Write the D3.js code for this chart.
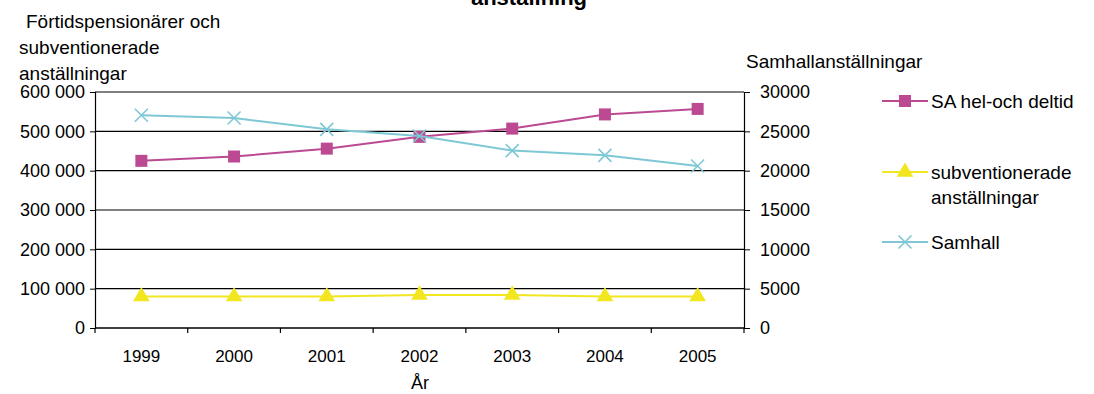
<!DOCTYPE html>
<html>
<head>
<meta charset="utf-8">
<script src="https://cdn.jsdelivr.net/npm/d3@7"></script>
<style>
  html, body { margin: 0; padding: 0; background: #fff; }
  svg { display: block; font-family: "Liberation Sans", Arial, sans-serif; }
</style>
</head>
<body>
<svg id="chart" width="1094" height="394"></svg>
<script>
// Years on the category axis
const years = ["1999", "2000", "2001", "2002", "2003", "2004", "2005"];

// Left axis series (persons)
const saHelDeltid = [425000, 436000, 456000, 486000, 507000, 543000, 557000];
const subventionerade = [80000, 80000, 80000, 84000, 84000, 80000, 80000];

// Right axis series (Samhall employees)
const samhall = [27050, 26700, 25250, 24400, 22550, 21950, 20600];

// Tick values
const leftTicks = [0, 100000, 200000, 300000, 400000, 500000, 600000];
const rightTicks = [0, 5000, 10000, 15000, 20000, 25000, 30000];

const svg = d3.select("#chart");
const plot = { left: 95, right: 744, top: 92, bottom: 328 };

const x = d3.scaleBand().domain(years).range([plot.left, plot.right]).padding(0);
const yL = d3.scaleLinear().domain([0, 600000]).range([plot.bottom, plot.top]);
const yR = d3.scaleLinear().domain([0, 30000]).range([plot.bottom, plot.top]);
const cx = d => x(d) + x.bandwidth() / 2;

const fmtSpace = v => d3.format(",")(v).replace(/,/g, " ");

// Title (second line only fits in view)
svg.append("text")
  .attr("x", 529).attr("y", 5)
  .attr("text-anchor", "middle")
  .attr("font-weight", "bold")
  .attr("font-size", 22)
  .text("anställning");

// Horizontal gridlines
svg.append("g")
  .selectAll("line")
  .data(leftTicks)
  .join("line")
  .attr("x1", plot.left).attr("x2", plot.right)
  .attr("y1", d => yL(d)).attr("y2", d => yL(d))
  .attr("stroke", "#000").attr("stroke-width", 1.2);

// Left axis
const gL = svg.append("g")
  .attr("transform", `translate(${plot.left},0)`)
  .call(d3.axisLeft(yL).tickValues(leftTicks).tickFormat(fmtSpace).tickSize(5).tickPadding(5));
gL.select(".domain").attr("stroke", "#000").attr("stroke-width", 1.2);
gL.selectAll("text").attr("font-size", 18).attr("fill", "#000").attr("font-family", "Liberation Sans, Arial, sans-serif");

// Right axis
const gR = svg.append("g")
  .attr("transform", `translate(${plot.right},0)`)
  .call(d3.axisRight(yR).tickValues(rightTicks).tickFormat(d3.format("d")).tickSize(6).tickPadding(10));
gR.select(".domain").attr("stroke", "#000").attr("stroke-width", 1.2);
gR.selectAll("text").attr("font-size", 18).attr("fill", "#000").attr("font-family", "Liberation Sans, Arial, sans-serif");

// Bottom axis: ticks at category boundaries, labels centred in each band
const gB = svg.append("g").attr("transform", `translate(0,${plot.bottom})`);
gB.append("line")
  .attr("x1", plot.left).attr("x2", plot.right)
  .attr("stroke", "#000").attr("stroke-width", 1.2);
const boundaries = years.map(d => x(d)).concat([plot.right]);
gB.selectAll("line.tick")
  .data(boundaries)
  .join("line")
  .attr("class", "tick")
  .attr("x1", d => d).attr("x2", d => d)
  .attr("y1", 0).attr("y2", 5)
  .attr("stroke", "#000").attr("stroke-width", 1.2);
gB.selectAll("text")
  .data(years)
  .join("text")
  .attr("x", d => cx(d))
  .attr("y", 34)
  .attr("text-anchor", "middle")
  .attr("font-size", 17)
  .text(d => d);

// Axis titles
svg.append("text")
  .attr("x", 420).attr("y", 389)
  .attr("text-anchor", "middle")
  .attr("font-size", 18)
  .text("År");

const leftTitle = svg.append("text").attr("font-size", 19);
[["Förtidspensionärer och", 26, 28], ["subventionerade", 19, 54], ["anställningar", 19, 80]]
  .forEach(([t, tx, ty]) => leftTitle.append("tspan").attr("x", tx).attr("y", ty).text(t));

svg.append("text")
  .attr("x", 746).attr("y", 68)
  .attr("font-size", 19)
  .text("Samhallanställningar");

// Series definitions
const series = [
  { name: ["SA hel-och deltid"], values: saHelDeltid, y: yL, color: "#BB4A92", marker: "square", ly: 101 },
  { name: ["subventionerade", "anställningar"], values: subventionerade, y: yL, color: "#F2E620", marker: "triangle", ly: 172 },
  { name: ["Samhall"], values: samhall, y: yR, color: "#7EC8D5", marker: "x", ly: 242 }
];

function drawMarker(g, type, color) {
  if (type === "square") {
    g.append("rect").attr("x", -6).attr("y", -6).attr("width", 12).attr("height", 12)
      .attr("fill", color);
  } else if (type === "triangle") {
    g.append("path").attr("d", d3.symbol(d3.symbolTriangle, 120)())
      .attr("fill", color);
  } else {
    g.append("path").attr("d", "M-6.5,-6.5L6.5,6.5M-6.5,6.5L6.5,-6.5")
      .attr("stroke", color).attr("stroke-width", 1.6).attr("fill", "none");
  }
}

const line = d3.line();
series.forEach(s => {
  const pts = years.map((yr, i) => [cx(yr), s.y(s.values[i])]);
  svg.append("path")
    .attr("d", line(pts))
    .attr("fill", "none")
    .attr("stroke", s.color)
    .attr("stroke-width", 2);
  pts.forEach(p => {
    const g = svg.append("g").attr("transform", `translate(${p[0]},${p[1]})`);
    drawMarker(g, s.marker, s.color);
  });
});

// Legend
series.forEach(s => {
  const lg = svg.append("g").attr("transform", `translate(882,${s.ly})`);
  lg.append("line").attr("x1", 0).attr("x2", 46).attr("y1", 0).attr("y2", 0)
    .attr("stroke", s.color).attr("stroke-width", 2);
  const m = lg.append("g").attr("transform", "translate(23,0)");
  drawMarker(m, s.marker, s.color);
  const t = lg.append("text").attr("font-size", 19);
  s.name.forEach((n, i) => t.append("tspan").attr("x", 49).attr("y", 7 + i * 25).text(n));
});
</script>
</body>
</html>
